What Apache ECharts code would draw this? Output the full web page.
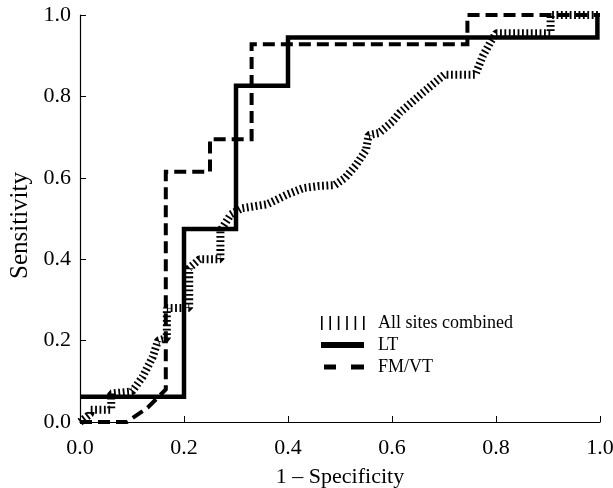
<!DOCTYPE html>
<html>
<head>
<meta charset="utf-8">
<script src="https://cdn.jsdelivr.net/npm/echarts@6/dist/echarts.min.js"></script>
<style>
html, body { margin: 0; padding: 0; background: #fff; }
#roc { width: 613px; height: 488px; }
</style>
</head>
<body>
<div id="roc"></div>
<script>
// values
var xTicks = [0, 0.2, 0.4, 0.6, 0.8, 1.0];
var yTicks = [0, 0.2, 0.4, 0.6, 0.8, 1.0];

var allX = [0, 0.02, 0.02, 0.06, 0.06, 0.10, 0.12, 0.14, 0.15, 0.167, 0.167, 0.21, 0.21, 0.23, 0.27, 0.27, 0.29, 0.31, 0.36, 0.40, 0.43, 0.46, 0.49, 0.51, 0.53, 0.55, 0.555, 0.575, 0.60, 0.615, 0.66, 0.70, 0.76, 0.775, 0.79, 0.80, 0.905, 0.905, 1.0];
var allY = [0, 0.02, 0.03, 0.03, 0.07, 0.075, 0.11, 0.16, 0.2, 0.206, 0.28, 0.28, 0.378, 0.40, 0.40, 0.47, 0.51, 0.525, 0.535, 0.56, 0.575, 0.58, 0.582, 0.60, 0.63, 0.668, 0.705, 0.71, 0.737, 0.76, 0.81, 0.853, 0.853, 0.9, 0.935, 0.955, 0.955, 1.0, 1.0];

var ltX = [0, 0.2, 0.2, 0.3, 0.3, 0.4, 0.4, 0.995, 0.995];
var ltY = [0.062, 0.062, 0.474, 0.474, 0.826, 0.826, 0.945, 0.945, 1.0];

var fmX = [0, 0.09, 0.13, 0.165, 0.165, 0.25, 0.25, 0.33, 0.33, 0.745, 0.745, 1.0];
var fmY = [0, 0, 0.035, 0.08, 0.615, 0.615, 0.695, 0.695, 0.928, 0.928, 1.0, 1.0];

function pairs(xs, ys) {
    return xs.map(function (x, i) { return [x, ys[i]]; });
}

var serif = 'Liberation Serif';

// legend glyphs drawn in a 44x14 box (corner points keep the box size)
var box = 'M0,0L0,0Z M44,14L44,14Z ';
var iconHatch = 'path://' + box +
    'M0,0h1.6v14h-1.6z M8.4,0h1.6v14h-1.6z M16.8,0h1.6v14h-1.6z ' +
    'M25.2,0h1.6v14h-1.6z M33.6,0h1.6v14h-1.6z M42,0h1.6v14h-1.6z';
var iconSolid = 'path://' + box + 'M0,4h43v6h-43z';
var iconDash = 'path://' + box + 'M3,4.5h12v5h-12z M30,4.5h13v5h-13z';

var myChart = echarts.init(document.getElementById('roc'));
var option = {
    animation: false,
    backgroundColor: '#fff',
    grid: { left: 80, right: 13, top: 15, bottom: 66, outerBoundsMode: 'none' },
    legend: {
        orient: 'vertical',
        left: 316,
        top: 309,
        itemWidth: 44,
        itemHeight: 14,
        itemGap: 4,
        textStyle: { fontFamily: serif, fontSize: 18, color: '#000', padding: [0, 0, 0, 8] },
        data: [
            { name: 'All sites combined', icon: iconHatch },
            { name: 'LT', icon: iconSolid },
            { name: 'FM/VT', icon: iconDash }
        ]
    },
    xAxis: {
        type: 'value',
        min: 0, max: 1, interval: 0.2,
        name: '1 – Specificity',
        nameLocation: 'middle',
        nameGap: 44,
        nameTextStyle: { fontFamily: serif, fontSize: 22, color: '#000' },
        axisLine: { lineStyle: { color: '#000', width: 1.2 } },
        axisTick: { inside: true, length: 6, lineStyle: { color: '#000' } },
        axisLabel: {
            fontFamily: serif, fontSize: 22, color: '#000', margin: 15,
            formatter: function (v) { return v.toFixed(1); }
        },
        splitLine: { show: false }
    },
    yAxis: {
        type: 'value',
        min: 0, max: 1, interval: 0.2,
        name: 'Sensitivity',
        nameLocation: 'middle',
        nameGap: 36,
        nameTextStyle: { fontFamily: serif, fontSize: 25, color: '#000', padding: [0, 14, 0, 0] },
        axisLine: { lineStyle: { color: '#000', width: 1.2 } },
        axisTick: { inside: true, length: 6, lineStyle: { color: '#000' } },
        axisLabel: {
            fontFamily: serif, fontSize: 22, color: '#000', margin: 9,
            formatter: function (v) { return v.toFixed(1); }
        },
        splitLine: { show: false }
    },
    series: [
        {
            name: 'All sites combined',
            type: 'line',
            symbol: 'none',
            data: pairs(allX, allY),
            color: '#000',
            lineStyle: { color: '#000', width: 8, type: [1.8, 2.6], cap: 'butt' }
        },
        {
            name: 'LT',
            type: 'line',
            symbol: 'none',
            data: pairs(ltX, ltY),
            color: '#000',
            lineStyle: { color: '#000', width: 4.5, join: 'miter' }
        },
        {
            name: 'FM/VT',
            type: 'line',
            symbol: 'none',
            data: pairs(fmX, fmY),
            color: '#000',
            lineStyle: { color: '#000', width: 4, type: [12, 6], join: 'miter' }
        }
    ]
};

myChart.setOption(option);
</script>
</body>
</html>
